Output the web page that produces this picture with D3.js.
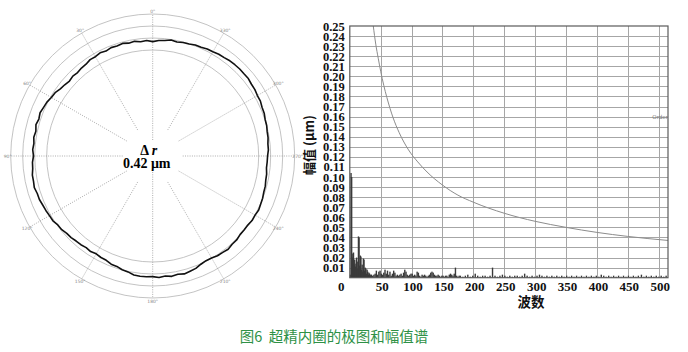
<!DOCTYPE html>
<html>
<head>
<meta charset="utf-8">
<script src="https://cdn.jsdelivr.net/npm/d3@7"></script>
<style>
body{margin:0;background:#fff}
svg{display:block}
</style>
</head>
<body>
<svg id="fig" width="688" height="352"></svg>
<script>
// ---- polar plot data: radial deviation (um) every 3 deg, counter-clockwise from top
var profileDev = [
 -0.15,-0.10,-0.13,-0.08,-0.11,-0.06,-0.10,-0.08,-0.13,-0.09,
 -0.14,-0.13,-0.19,-0.20,-0.24,-0.21,-0.25,-0.20,-0.16,-0.07,
 -0.04,0.03,0.06,0.11,0.07,0.12,0.06,0.10,0.06,0.09,
 0.05,0.10,0.11,0.16,0.16,0.19,0.14,0.14,0.10,0.08,
 0.05,0.04,-0.03,-0.04,-0.10,-0.11,-0.15,-0.16,-0.20,-0.17,
 -0.21,-0.17,-0.16,-0.09,-0.08,-0.01,0.02,0.10,0.12,0.12,
 0.11,0.15,0.11,0.16,0.12,0.17,0.13,0.10,0.02,-0.02,
 -0.01,0.04,0.05,0.08,0.03,0.03,-0.02,-0.02,-0.02,0.02,
 0.01,0.04,0.01,-0.01,-0.05,-0.06,-0.10,-0.11,-0.15,-0.14,
 -0.13,-0.09,-0.09,-0.05,-0.04,0.00,0.01,0.06,0.07,0.12,
 0.12,0.16,0.17,0.21,0.20,0.21,0.20,0.19,0.15,0.14,
 0.10,0.09,0.04,0.04,-0.01,-0.02,-0.06,-0.02,-0.08,-0.10
];
var ringValues = [-0.5, 0, 0.5, 1.0];
var angleLabels = ["0°","30°","60°","90°","120°","150°","180°","210°","240°","270°","300°","330°"];
var spokeAngles = [0,30,60,90,120,150,180,210,240,270,300,330];

// ---- spectrum data
var waveNumbers = [
 1,2,3,4,5,6,7,8,9,10,
 11,12,13,14,15,16,17,18,19,20,
 21,22,23,24,25,26,27,28,29,30,
 31,32,33,34,35,37,39,41,43,45,
 47,49,51,53,55,57,59,61,63,65,
 67,69,71,73,75,77,79,81,83,85,
 87,89,91,93,95,97,99,101,103,105,
 107,109,111,113,115,117,119,121,123,125,
 127,129,131,133,135,137,139,141,143,145,
 147,149,151,153,155,157,159,161,163,165,
 167,169,171,173,175,177,179,183,187,191,
 195,199,203,207,211,215,219,223,227,231,
 235,239,243,247,251,255,259,263,267,271,
 275,279,283,287,291,295,299,303,307,311,
 315,319,323,327,331,335,339,343,347,351,
 355,359,363,367,371,375,379,383,387,391,
 395,399,403,407,411,415,419,423,427,431,
 435,439,443,447,451,455,459,463,467,472,
 476,480,484,488,492,496,500,504,508,512
];
var amplitudes = [
 .003,.104,.100,.020,.024,.025,.013,.018,.011,.014,
 .020,.009,.016,.041,.040,.012,.022,.021,.008,.013,
 .006,.019,.018,.007,.010,.009,.004,.008,.006,.003,
 .005,.004,.002,.003,.003,.002,.003,.004,.007,.003,
 .006,.007,.004,.003,.005,.008,.004,.007,.003,.006,
 .002,.004,.007,.005,.002,.003,.002,.003,.004,.002,
 .005,.008,.006,.003,.002,.003,.004,.004,.002,.003,
 .002,.006,.005,.002,.001,.003,.002,.003,.002,.001,
 .002,.003,.005,.006,.005,.003,.002,.002,.003,.002,
 .001,.002,.002,.001,.002,.002,.001,.003,.004,.003,
 .002,.004,.010,.002,.001,.002,.002,.001,.002,.003,
 .001,.002,.004,.002,.001,.002,.002,.001,.002,.010,
 .002,.001,.002,.003,.002,.001,.002,.001,.002,.002,
 .001,.002,.004,.002,.001,.002,.001,.002,.003,.002,
 .001,.002,.001,.002,.001,.002,.001,.002,.001,.002,
 .001,.002,.001,.002,.001,.002,.001,.002,.001,.002,
 .001,.002,.001,.003,.002,.001,.002,.001,.002,.001,
 .002,.001,.002,.001,.002,.001,.002,.001,.002,.003,
 .001,.002,.001,.002,.001,.002,.001,.002,.001,.002
];
// limit ("Order") curve
var orderN   = [38,42,46,50,55,60,70,80,95,110,125,150,175,200,250,300,350,400,450,515];
var orderAmp = [0.25,0.232,0.218,0.205,0.191,0.179,0.159,0.144,0.127,0.115,0.105,0.092,0.082,0.075,0.064,0.056,0.050,0.045,0.041,0.037];
var xTicks = [0,50,100,150,200,250,300,350,400,450,500];
var yTicks = d3.range(1,26).map(function(i){ return i/100; });

var SERIF = "'Liberation Serif','Times New Roman','DejaVu Serif',serif";
var CJK = "'Noto Sans CJK SC','Noto Sans',sans-serif";

var svg = d3.select("#fig");
function rad(a){ return a*Math.PI/180; }

// ================= polar plot =================
var cx = 152.7, cy = 156;
var rScale = d3.scaleLinear().domain([-0.5,1.0]).range([106,142]);
var polar = svg.append("g").attr("transform","translate("+cx+","+cy+")");

polar.selectAll(".ring").data(ringValues).enter().append("circle")
  .attr("class","ring")
  .attr("r",function(d){ return rScale(d); })
  .attr("fill","none").attr("stroke","#b4b4b4").attr("stroke-width",0.8);

function spokeIn(a){ return (a%180===0) ? 16 : 30; }
polar.selectAll(".spoke").data(spokeAngles).enter().append("line")
  .attr("class","spoke")
  .attr("x1",function(d){ return -spokeIn(d)*Math.sin(rad(d)); })
  .attr("y1",function(d){ return -spokeIn(d)*Math.cos(rad(d)); })
  .attr("x2",function(d){ return -rScale(1.0)*Math.sin(rad(d)); })
  .attr("y2",function(d){ return -rScale(1.0)*Math.cos(rad(d)); })
  .attr("stroke","#8a8a8a").attr("stroke-width",0.7).attr("stroke-dasharray","1,1.3");

polar.selectAll(".alab").data(spokeAngles).enter().append("text")
  .attr("class","alab")
  .attr("x",function(d){ return -(rScale(1.0)+3)*Math.sin(rad(d)); })
  .attr("y",function(d){ return -(rScale(1.0)+3)*Math.cos(rad(d)) + 1.5; })
  .attr("text-anchor","middle")
  .style("font-family","DejaVu Sans").style("font-size","4.5px").attr("fill","#888")
  .text(function(d,i){ return angleLabels[i]; });

var profile = d3.lineRadial()
  .angle(function(d,i){ return -rad(i*3); })
  .radius(function(d){ return rScale(d); })
  .curve(d3.curveLinearClosed);
polar.append("path")
  .attr("d",profile(profileDev))
  .attr("fill","none").attr("stroke","#111").attr("stroke-width",1.6)
  .attr("stroke-linejoin","round");

var t1 = polar.append("text")
  .attr("x",-4).attr("y",-1).attr("text-anchor","middle")
  .style("font-family",SERIF).style("font-weight","bold").style("font-size","14px");
t1.append("tspan").text("Δ ");
t1.append("tspan").style("font-style","italic").text("r");
polar.append("text")
  .attr("x",-6).attr("y",11.5).attr("text-anchor","middle")
  .style("font-family",SERIF).style("font-weight","bold").style("font-size","14px")
  .text("0.42 μm");

// ================= spectrum =================
var x = d3.scaleLinear().domain([0,515]).range([349.8,668]);
var y = d3.scaleLinear().domain([0,0.25]).range([277.7,26]);
var spec = svg.append("g");

// grid
spec.selectAll(".hg").data(yTicks.slice(0,24)).enter().append("line")
  .attr("x1",x(0)).attr("x2",x(515))
  .attr("y1",function(d){ return Math.round(y(d))+0.5; })
  .attr("y2",function(d){ return Math.round(y(d))+0.5; })
  .attr("stroke","#a6a6a6").attr("stroke-width",1);
spec.selectAll(".vg").data(xTicks.slice(1)).enter().append("line")
  .attr("y1",y(0)).attr("y2",y(0.25))
  .attr("x1",function(d){ return Math.round(x(d))+0.5; })
  .attr("x2",function(d){ return Math.round(x(d))+0.5; })
  .attr("stroke","#a6a6a6").attr("stroke-width",1);

// limit curve
var orderLine = d3.line()
  .x(function(d,i){ return x(orderN[i]); })
  .y(function(d){ return y(d); })
  .curve(d3.curveMonotoneX);
spec.append("path").attr("d",orderLine(orderAmp))
  .attr("fill","none").attr("stroke","#8c8c8c").attr("stroke-width",1);

// bars
spec.selectAll(".bar").data(amplitudes).enter().append("rect")
  .attr("class","bar")
  .attr("x",function(d,i){ return x(waveNumbers[i])-0.7; })
  .attr("width",1.4)
  .attr("y",function(d){ return y(d); })
  .attr("height",function(d){ return y(0)-y(d); })
  .attr("fill","#3a3a3a");

// frame
spec.append("rect")
  .attr("x",x(0)).attr("y",y(0.25))
  .attr("width",x(515)-x(0)).attr("height",y(0)-y(0.25))
  .attr("fill","none").attr("stroke","#5a5a5a").attr("stroke-width",1.2);

// axes
var yAxis = d3.axisLeft(y).tickValues(yTicks).tickSize(0).tickPadding(5)
  .tickFormat(d3.format(".2f"));
var gy = spec.append("g").attr("transform","translate("+x(0)+",0)").call(yAxis);
gy.select(".domain").remove();
gy.selectAll("text").style("font-family",SERIF).style("font-weight","bold")
  .style("font-size","12.5px").attr("fill","#111");

var xAxis = d3.axisBottom(x).tickValues(xTicks).tickSize(0).tickPadding(4)
  .tickFormat(d3.format("d"));
var gx = spec.append("g").attr("transform","translate(0,"+y(0)+")").call(xAxis);
gx.select(".domain").remove();
gx.selectAll("text").style("font-family",SERIF).style("font-weight","bold")
  .style("font-size","13px").attr("fill","#111")
  .attr("dx",function(d){ return d===0 ? -9 : 1; });

spec.append("text").attr("x",668).attr("y",119).attr("text-anchor","end")
  .style("font-family","DejaVu Sans").style("font-size","5.5px").attr("fill","#777")
  .text("Order");

spec.append("text")
  .attr("x",531).attr("y",306.5).attr("text-anchor","middle")
  .style("font-family",CJK).style("font-size","13.5px").style("font-weight","bold")
  .attr("fill","#111")
  .text("波数");
spec.append("text")
  .attr("transform","translate(314,145) rotate(-90)")
  .attr("text-anchor","middle")
  .style("font-family",CJK).style("font-size","13px").style("font-weight","bold")
  .attr("fill","#111")
  .text("幅值 (μm)");

// caption
svg.append("text")
  .attr("x",334).attr("y",341.5).attr("text-anchor","middle")
  .style("font-family",CJK).style("font-size","14.5px").style("white-space","pre")
  .attr("fill","#2e9146")
  .text("图6  超精内圈的极图和幅值谱");
</script>
</body>
</html>
